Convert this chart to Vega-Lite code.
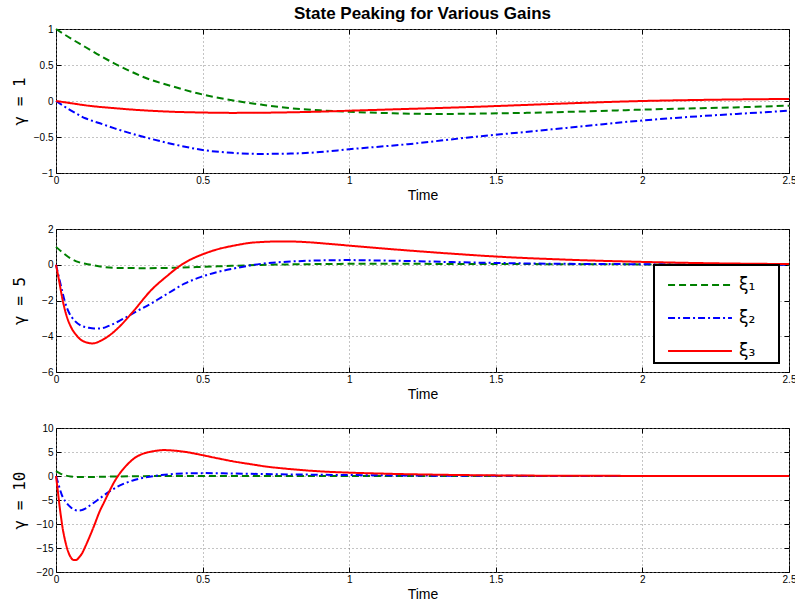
{
"$schema":"https://vega.github.io/schema/vega-lite/v6.json",
"padding":{"left":10,"top":4,"right":0,"bottom":0},
"title":{"text":"State Peaking for Various Gains","fontSize":17,"fontWeight":"bold","font":"Liberation Sans","color":"#000","anchor":"middle","frame":"group","offset":1},
"datasets":{
"p1":[
{"s":"ξ₁","t":0,"v":1},{"s":"ξ₁","t":0.05,"v":0.87},{"s":"ξ₁","t":0.1,"v":0.75},{"s":"ξ₁","t":0.15,"v":0.63},{"s":"ξ₁","t":0.2,"v":0.52},{"s":"ξ₁","t":0.25,"v":0.42},{"s":"ξ₁","t":0.3,"v":0.33},{"s":"ξ₁","t":0.4,"v":0.2},{"s":"ξ₁","t":0.5,"v":0.09},{"s":"ξ₁","t":0.6,"v":0.01},{"s":"ξ₁","t":0.7,"v":-0.05},{"s":"ξ₁","t":0.8,"v":-0.1},{"s":"ξ₁","t":0.9,"v":-0.13},{"s":"ξ₁","t":1.0,"v":-0.15},{"s":"ξ₁","t":1.15,"v":-0.17},{"s":"ξ₁","t":1.3,"v":-0.18},{"s":"ξ₁","t":1.45,"v":-0.175},{"s":"ξ₁","t":1.6,"v":-0.165},{"s":"ξ₁","t":1.8,"v":-0.145},{"s":"ξ₁","t":2.0,"v":-0.12},{"s":"ξ₁","t":2.2,"v":-0.1},{"s":"ξ₁","t":2.35,"v":-0.085},{"s":"ξ₁","t":2.5,"v":-0.065},
{"s":"ξ₂","t":0,"v":0},{"s":"ξ₂","t":0.05,"v":-0.13},{"s":"ξ₂","t":0.1,"v":-0.24},{"s":"ξ₂","t":0.15,"v":-0.31},{"s":"ξ₂","t":0.2,"v":-0.38},{"s":"ξ₂","t":0.3,"v":-0.5},{"s":"ξ₂","t":0.4,"v":-0.6},{"s":"ξ₂","t":0.5,"v":-0.68},{"s":"ξ₂","t":0.6,"v":-0.72},{"s":"ξ₂","t":0.7,"v":-0.735},{"s":"ξ₂","t":0.8,"v":-0.73},{"s":"ξ₂","t":0.9,"v":-0.71},{"s":"ξ₂","t":1.0,"v":-0.67},{"s":"ξ₂","t":1.2,"v":-0.6},{"s":"ξ₂","t":1.4,"v":-0.51},{"s":"ξ₂","t":1.6,"v":-0.43},{"s":"ξ₂","t":1.8,"v":-0.35},{"s":"ξ₂","t":2.0,"v":-0.27},{"s":"ξ₂","t":2.2,"v":-0.21},{"s":"ξ₂","t":2.4,"v":-0.16},{"s":"ξ₂","t":2.5,"v":-0.135},
{"s":"ξ₃","t":0,"v":0},{"s":"ξ₃","t":0.05,"v":-0.03},{"s":"ξ₃","t":0.1,"v":-0.06},{"s":"ξ₃","t":0.2,"v":-0.1},{"s":"ξ₃","t":0.3,"v":-0.13},{"s":"ξ₃","t":0.4,"v":-0.15},{"s":"ξ₃","t":0.5,"v":-0.16},{"s":"ξ₃","t":0.6,"v":-0.165},{"s":"ξ₃","t":0.7,"v":-0.163},{"s":"ξ₃","t":0.8,"v":-0.157},{"s":"ξ₃","t":0.9,"v":-0.148},{"s":"ξ₃","t":1.0,"v":-0.135},{"s":"ξ₃","t":1.2,"v":-0.11},{"s":"ξ₃","t":1.4,"v":-0.085},{"s":"ξ₃","t":1.6,"v":-0.055},{"s":"ξ₃","t":1.8,"v":-0.025},{"s":"ξ₃","t":2.0,"v":0},{"s":"ξ₃","t":2.2,"v":0.015},{"s":"ξ₃","t":2.4,"v":0.025},{"s":"ξ₃","t":2.5,"v":0.028}
],
"p2":[
{"s":"ξ₁","t":0,"v":1},{"s":"ξ₁","t":0.025,"v":0.65},{"s":"ξ₁","t":0.05,"v":0.35},{"s":"ξ₁","t":0.08,"v":0.13},{"s":"ξ₁","t":0.12,"v":0},{"s":"ξ₁","t":0.16,"v":-0.12},{"s":"ξ₁","t":0.21,"v":-0.18},{"s":"ξ₁","t":0.3,"v":-0.19},{"s":"ξ₁","t":0.4,"v":-0.17},{"s":"ξ₁","t":0.5,"v":-0.12},{"s":"ξ₁","t":0.6,"v":-0.06},{"s":"ξ₁","t":0.7,"v":-0.01},{"s":"ξ₁","t":0.85,"v":0.03},{"s":"ξ₁","t":1.0,"v":0.05},{"s":"ξ₁","t":1.2,"v":0.05},{"s":"ξ₁","t":1.5,"v":0.04},{"s":"ξ₁","t":2.0,"v":0.02},{"s":"ξ₁","t":2.5,"v":0},
{"s":"ξ₂","t":0,"v":0},{"s":"ξ₂","t":0.01,"v":-0.7},{"s":"ξ₂","t":0.02,"v":-1.4},{"s":"ξ₂","t":0.03,"v":-2.05},{"s":"ξ₂","t":0.045,"v":-2.7},{"s":"ξ₂","t":0.062,"v":-3.1},{"s":"ξ₂","t":0.085,"v":-3.4},{"s":"ξ₂","t":0.11,"v":-3.52},{"s":"ξ₂","t":0.13,"v":-3.57},{"s":"ξ₂","t":0.153,"v":-3.56},{"s":"ξ₂","t":0.18,"v":-3.42},{"s":"ξ₂","t":0.222,"v":-3.09},{"s":"ξ₂","t":0.27,"v":-2.65},{"s":"ξ₂","t":0.324,"v":-2.17},{"s":"ξ₂","t":0.381,"v":-1.61},{"s":"ξ₂","t":0.438,"v":-1.06},{"s":"ξ₂","t":0.495,"v":-0.68},{"s":"ξ₂","t":0.55,"v":-0.41},{"s":"ξ₂","t":0.61,"v":-0.2},{"s":"ξ₂","t":0.665,"v":-0.03},{"s":"ξ₂","t":0.72,"v":0.09},{"s":"ξ₂","t":0.8,"v":0.18},{"s":"ξ₂","t":0.9,"v":0.24},{"s":"ξ₂","t":1.0,"v":0.26},{"s":"ξ₂","t":1.1,"v":0.24},{"s":"ξ₂","t":1.2,"v":0.21},{"s":"ξ₂","t":1.35,"v":0.15},{"s":"ξ₂","t":1.5,"v":0.1},{"s":"ξ₂","t":1.75,"v":0.05},{"s":"ξ₂","t":2.0,"v":0.03},{"s":"ξ₂","t":2.25,"v":0.01},{"s":"ξ₂","t":2.5,"v":0},
{"s":"ξ₃","t":0,"v":0},{"s":"ξ₃","t":0.01,"v":-0.85},{"s":"ξ₃","t":0.023,"v":-2.0},{"s":"ξ₃","t":0.035,"v":-2.8},{"s":"ξ₃","t":0.051,"v":-3.48},{"s":"ξ₃","t":0.07,"v":-3.95},{"s":"ξ₃","t":0.085,"v":-4.2},{"s":"ξ₃","t":0.105,"v":-4.35},{"s":"ξ₃","t":0.125,"v":-4.4},{"s":"ξ₃","t":0.153,"v":-4.25},{"s":"ξ₃","t":0.18,"v":-3.98},{"s":"ξ₃","t":0.222,"v":-3.37},{"s":"ξ₃","t":0.267,"v":-2.54},{"s":"ξ₃","t":0.324,"v":-1.43},{"s":"ξ₃","t":0.381,"v":-0.6},{"s":"ξ₃","t":0.42,"v":-0.09},{"s":"ξ₃","t":0.46,"v":0.3},{"s":"ξ₃","t":0.495,"v":0.55},{"s":"ξ₃","t":0.55,"v":0.86},{"s":"ξ₃","t":0.61,"v":1.08},{"s":"ξ₃","t":0.665,"v":1.23},{"s":"ξ₃","t":0.7,"v":1.27},{"s":"ξ₃","t":0.75,"v":1.3},{"s":"ξ₃","t":0.8,"v":1.3},{"s":"ξ₃","t":0.86,"v":1.26},{"s":"ξ₃","t":0.93,"v":1.17},{"s":"ξ₃","t":1.0,"v":1.07},{"s":"ξ₃","t":1.1,"v":0.93},{"s":"ξ₃","t":1.2,"v":0.8},{"s":"ξ₃","t":1.35,"v":0.62},{"s":"ξ₃","t":1.5,"v":0.46},{"s":"ξ₃","t":1.75,"v":0.28},{"s":"ξ₃","t":2.0,"v":0.16},{"s":"ξ₃","t":2.25,"v":0.08},{"s":"ξ₃","t":2.5,"v":0.04}
],
"p3":[
{"s":"ξ₁","t":0,"v":1},{"s":"ξ₁","t":0.015,"v":0.5},{"s":"ξ₁","t":0.03,"v":0.15},{"s":"ξ₁","t":0.05,"v":-0.1},{"s":"ξ₁","t":0.08,"v":-0.2},{"s":"ξ₁","t":0.12,"v":-0.2},{"s":"ξ₁","t":0.2,"v":-0.1},{"s":"ξ₁","t":0.3,"v":-0.03},{"s":"ξ₁","t":0.4,"v":0},{"s":"ξ₁","t":0.6,"v":0.02},{"s":"ξ₁","t":1.0,"v":0.01},{"s":"ξ₁","t":1.5,"v":0},{"s":"ξ₁","t":2.0,"v":0},{"s":"ξ₁","t":2.5,"v":0},
{"s":"ξ₂","t":0,"v":0},{"s":"ξ₂","t":0.006,"v":-1.2},{"s":"ξ₂","t":0.014,"v":-2.9},{"s":"ξ₂","t":0.023,"v":-4.4},{"s":"ξ₂","t":0.032,"v":-5.3},{"s":"ξ₂","t":0.04,"v":-5.9},{"s":"ξ₂","t":0.05,"v":-6.5},{"s":"ξ₂","t":0.062,"v":-7.0},{"s":"ξ₂","t":0.074,"v":-7.2},{"s":"ξ₂","t":0.085,"v":-7.15},{"s":"ξ₂","t":0.1,"v":-6.8},{"s":"ξ₂","t":0.119,"v":-6.0},{"s":"ξ₂","t":0.142,"v":-5.0},{"s":"ξ₂","t":0.165,"v":-3.96},{"s":"ξ₂","t":0.188,"v":-3.0},{"s":"ξ₂","t":0.21,"v":-2.2},{"s":"ξ₂","t":0.24,"v":-1.4},{"s":"ξ₂","t":0.267,"v":-0.83},{"s":"ξ₂","t":0.295,"v":-0.4},{"s":"ξ₂","t":0.324,"v":-0.1},{"s":"ξ₂","t":0.36,"v":0.2},{"s":"ξ₂","t":0.41,"v":0.45},{"s":"ξ₂","t":0.46,"v":0.58},{"s":"ξ₂","t":0.51,"v":0.6},{"s":"ξ₂","t":0.57,"v":0.55},{"s":"ξ₂","t":0.65,"v":0.47},{"s":"ξ₂","t":0.75,"v":0.37},{"s":"ξ₂","t":0.87,"v":0.28},{"s":"ξ₂","t":1.0,"v":0.2},{"s":"ξ₂","t":1.2,"v":0.1},{"s":"ξ₂","t":1.5,"v":0.04},{"s":"ξ₂","t":2.0,"v":0},{"s":"ξ₂","t":2.5,"v":0},
{"s":"ξ₃","t":0,"v":0},{"s":"ξ₃","t":0.006,"v":-3.0},{"s":"ξ₃","t":0.012,"v":-6.2},{"s":"ξ₃","t":0.017,"v":-8.5},{"s":"ξ₃","t":0.023,"v":-11.0},{"s":"ξ₃","t":0.028,"v":-12.6},{"s":"ξ₃","t":0.034,"v":-14.2},{"s":"ξ₃","t":0.04,"v":-15.5},{"s":"ξ₃","t":0.05,"v":-16.9},{"s":"ξ₃","t":0.06,"v":-17.5},{"s":"ξ₃","t":0.068,"v":-17.5},{"s":"ξ₃","t":0.078,"v":-17.0},{"s":"ξ₃","t":0.09,"v":-16.0},{"s":"ξ₃","t":0.097,"v":-15.1},{"s":"ξ₃","t":0.108,"v":-13.6},{"s":"ξ₃","t":0.131,"v":-10.2},{"s":"ξ₃","t":0.148,"v":-7.5},{"s":"ξ₃","t":0.165,"v":-5.35},{"s":"ξ₃","t":0.182,"v":-3.2},{"s":"ξ₃","t":0.199,"v":-1.2},{"s":"ξ₃","t":0.222,"v":0.9},{"s":"ξ₃","t":0.245,"v":2.5},{"s":"ξ₃","t":0.267,"v":3.7},{"s":"ξ₃","t":0.295,"v":4.6},{"s":"ξ₃","t":0.324,"v":5.07},{"s":"ξ₃","t":0.35,"v":5.33},{"s":"ξ₃","t":0.369,"v":5.4},{"s":"ξ₃","t":0.4,"v":5.3},{"s":"ξ₃","t":0.438,"v":5.05},{"s":"ξ₃","t":0.495,"v":4.4},{"s":"ξ₃","t":0.55,"v":3.7},{"s":"ξ₃","t":0.61,"v":2.99},{"s":"ξ₃","t":0.665,"v":2.45},{"s":"ξ₃","t":0.72,"v":1.94},{"s":"ξ₃","t":0.78,"v":1.55},{"s":"ξ₃","t":0.835,"v":1.25},{"s":"ξ₃","t":0.9,"v":0.97},{"s":"ξ₃","t":1.0,"v":0.7},{"s":"ξ₃","t":1.1,"v":0.52},{"s":"ξ₃","t":1.165,"v":0.42},{"s":"ξ₃","t":1.3,"v":0.27},{"s":"ξ₃","t":1.5,"v":0.13},{"s":"ξ₃","t":1.75,"v":0.05},{"s":"ξ₃","t":2.0,"v":0.02},{"s":"ξ₃","t":2.5,"v":0}
]
},
"spacing":56,
"bounds":"flush",
"resolve":{"scale":{"color":"independent","strokeDash":"independent"},"legend":{"color":"independent","strokeDash":"independent"}},
"vconcat":[
{"width":733,"height":144,"data":{"name":"p1"},
 "layer":[
  {"mark":{"type":"line","strokeWidth":2,"interpolate":"monotone"},
   "encoding":{
    "x":{"field":"t","type":"quantitative","scale":{"domain":[0,2.5],"nice":false},"axis":{"values":[0,0.5,1,1.5,2,2.5],"format":"~g","title":"Time","titleX":366.5,"titleY":22}},
    "y":{"field":"v","type":"quantitative","scale":{"domain":[-1,1],"nice":false},"axis":{"values":[-1,-0.5,0,0.5,1],"format":"~g","title":"γ = 1","titleX":-37,"titleY":72}},
    "color":{"field":"s","type":"nominal","scale":{"domain":["ξ₁","ξ₂","ξ₃"],"range":["#008000","#0000ff","#ff0000"]},"legend":null},
    "strokeDash":{"field":"s","type":"nominal","scale":{"domain":["ξ₁","ξ₂","ξ₃"],"range":[[7,4],[7,3,2,3],[1,0]]},"legend":null}
   }},
  {"mark":{"type":"line","opacity":0},
   "encoding":{
    "x":{"field":"t","type":"quantitative","axis":{"orient":"top","values":[0,0.5,1,1.5,2,2.5],"labels":false,"grid":false,"title":null}},
    "y":{"field":"v","type":"quantitative","axis":{"orient":"right","values":[-1,-0.5,0,0.5,1],"labels":false,"grid":false,"title":null}},
    "detail":{"field":"s"}
   }}
 ],
 "resolve":{"axis":{"x":"independent","y":"independent"}}
},
{"width":733,"height":143,"data":{"name":"p2"},
 "layer":[
  {"mark":{"type":"line","strokeWidth":2,"interpolate":"monotone"},
   "encoding":{
    "x":{"field":"t","type":"quantitative","scale":{"domain":[0,2.5],"nice":false},"axis":{"values":[0,0.5,1,1.5,2,2.5],"format":"~g","title":"Time","titleX":366.5,"titleY":22}},
    "y":{"field":"v","type":"quantitative","scale":{"domain":[-6,2],"nice":false},"axis":{"values":[-6,-4,-2,0,2],"format":"~g","title":"γ = 5","titleX":-37,"titleY":71.5}},
    "color":{"field":"s","type":"nominal","scale":{"domain":["ξ₁","ξ₂","ξ₃"],"range":["#008000","#0000ff","#ff0000"]},
      "legend":{"orient":"none","legendX":598,"legendY":36,"title":null,"padding":4,"fillColor":"#ffffff","strokeColor":"#000000","symbolType":"M-2.13,0H2.13M4.67,0H4.67","symbolSize":900,"symbolStrokeWidth":2,"symbolOffset":26,"labelOffset":23,"labelFontSize":17,"labelFont":"DejaVu Sans","labelColor":"#000","rowPadding":9}},
    "strokeDash":{"field":"s","type":"nominal","scale":{"domain":["ξ₁","ξ₂","ξ₃"],"range":[[7,4],[7,3,2,3],[1,0]]},
      "legend":{"orient":"none","legendX":598,"legendY":36,"title":null,"padding":4,"fillColor":"#ffffff","strokeColor":"#000000","symbolType":"M-2.13,0H2.13M4.67,0H4.67","symbolSize":900,"symbolStrokeWidth":2,"symbolOffset":26,"labelOffset":23,"labelFontSize":17,"labelFont":"DejaVu Sans","labelColor":"#000","rowPadding":9}}
   }},
  {"mark":{"type":"line","opacity":0},
   "encoding":{
    "x":{"field":"t","type":"quantitative","axis":{"orient":"top","values":[0,0.5,1,1.5,2,2.5],"labels":false,"grid":false,"title":null}},
    "y":{"field":"v","type":"quantitative","axis":{"orient":"right","values":[-6,-4,-2,0,2],"labels":false,"grid":false,"title":null}},
    "detail":{"field":"s"}
   }}
 ],
 "resolve":{"axis":{"x":"independent","y":"independent"}}
},
{"width":733,"height":144,"data":{"name":"p3"},
 "layer":[
  {"mark":{"type":"line","strokeWidth":2,"interpolate":"monotone"},
   "encoding":{
    "x":{"field":"t","type":"quantitative","scale":{"domain":[0,2.5],"nice":false},"axis":{"values":[0,0.5,1,1.5,2,2.5],"format":"~g","title":"Time","titleX":366.5,"titleY":22}},
    "y":{"field":"v","type":"quantitative","scale":{"domain":[-20,10],"nice":false},"axis":{"values":[-20,-15,-10,-5,0,5,10],"format":"~g","title":"γ = 10","titleX":-37,"titleY":72}},
    "color":{"field":"s","type":"nominal","scale":{"domain":["ξ₁","ξ₂","ξ₃"],"range":["#008000","#0000ff","#ff0000"]},"legend":null},
    "strokeDash":{"field":"s","type":"nominal","scale":{"domain":["ξ₁","ξ₂","ξ₃"],"range":[[7,4],[7,3,2,3],[1,0]]},"legend":null}
   }},
  {"mark":{"type":"line","opacity":0},
   "encoding":{
    "x":{"field":"t","type":"quantitative","axis":{"orient":"top","values":[0,0.5,1,1.5,2,2.5],"labels":false,"grid":false,"title":null}},
    "y":{"field":"v","type":"quantitative","axis":{"orient":"right","values":[-20,-15,-10,-5,0,5,10],"labels":false,"grid":false,"title":null}},
    "detail":{"field":"s"}
   }}
 ],
 "resolve":{"axis":{"x":"independent","y":"independent"}}
}
],
"config":{
 "view":{"stroke":"#000","strokeWidth":1},
 "legend":{"strokeWidth":2},
 "axis":{"domain":false,"labelFont":"Liberation Sans","labelFontSize":10,"labelColor":"#000","tickColor":"#000","tickSize":-5,"labelPadding":8,"gridDash":[1,3],"gridColor":"#888","gridOpacity":1,"titleFontWeight":"normal","titleColor":"#000","titleBaseline":"middle"},
 "axisX":{"titleFont":"Liberation Sans","titleFontSize":14,"labelPadding":7,"labelFlush":false},
 "axisY":{"titleFont":"DejaVu Sans Mono","titleFontSize":16,"titleAngle":-90}
}
}
